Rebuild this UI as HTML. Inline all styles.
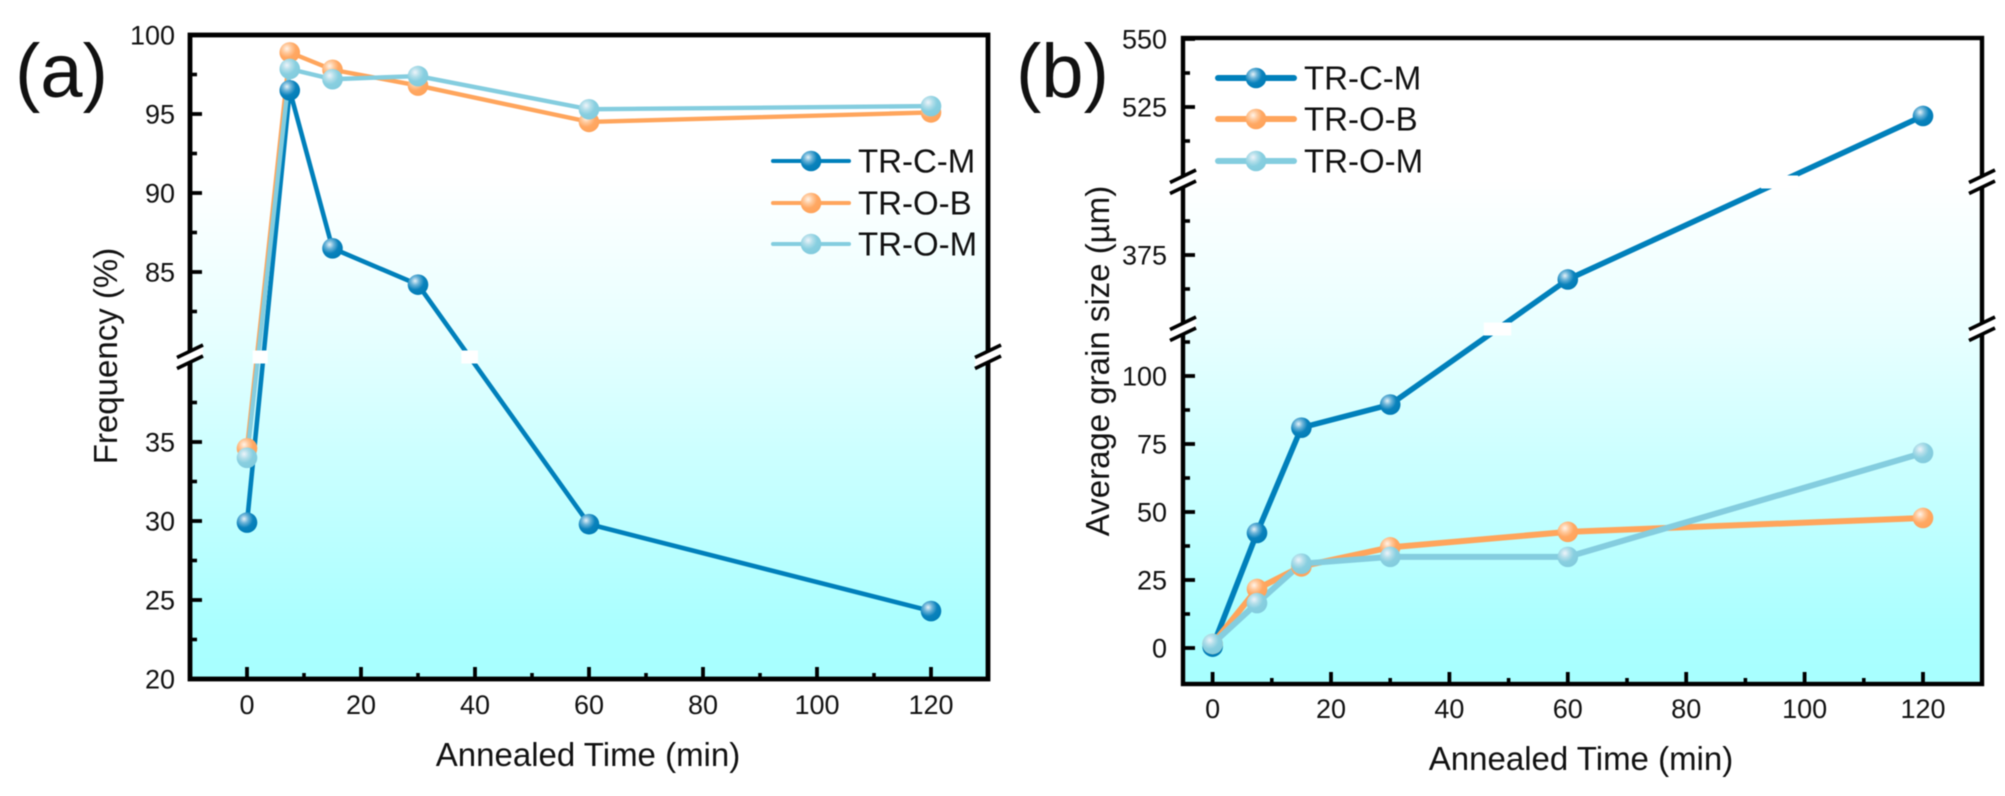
<!DOCTYPE html>
<html lang="en">
<head>
<meta charset="utf-8">
<title>Annealed time charts</title>
<style>
html,body{margin:0;padding:0;background:#fff;width:2005px;height:796px;overflow:hidden}
svg{display:block;font-family:"Liberation Sans",Arial,sans-serif;fill:#111;filter:blur(0.5px)}
</style>
</head>
<body>
<svg id="fig" xmlns="http://www.w3.org/2000/svg" width="2005" height="796" viewBox="0 0 2005 796">
<defs>
<linearGradient id="bgA" gradientUnits="userSpaceOnUse" x1="0" y1="35" x2="0" y2="679">
<stop offset="0.22" stop-color="#ffffff"/><stop offset="0.45" stop-color="#e9ffff"/><stop offset="0.65" stop-color="#ccffff"/><stop offset="0.92" stop-color="#aaffff"/><stop offset="1" stop-color="#a8ffff"/>
</linearGradient>
<linearGradient id="bgB" gradientUnits="userSpaceOnUse" x1="0" y1="38" x2="0" y2="684">
<stop offset="0.22" stop-color="#ffffff"/><stop offset="0.45" stop-color="#e9ffff"/><stop offset="0.65" stop-color="#ccffff"/><stop offset="0.92" stop-color="#aaffff"/><stop offset="1" stop-color="#a8ffff"/>
</linearGradient>
<radialGradient id="ballBlue" cx="0.36" cy="0.32" r="0.72"><stop offset="0" stop-color="#e6f2f8"/><stop offset="0.28" stop-color="#6cb4d8"/><stop offset="0.6" stop-color="#0a82bc"/><stop offset="1" stop-color="#007cb6"/></radialGradient>
<radialGradient id="ballOrange" cx="0.36" cy="0.32" r="0.72"><stop offset="0" stop-color="#fff4ea"/><stop offset="0.3" stop-color="#ffc99c"/><stop offset="0.6" stop-color="#ffa863"/><stop offset="1" stop-color="#ffa35a"/></radialGradient>
<radialGradient id="ballLight" cx="0.36" cy="0.32" r="0.72"><stop offset="0" stop-color="#eef4fa"/><stop offset="0.3" stop-color="#b4dfea"/><stop offset="0.6" stop-color="#88cfe0"/><stop offset="1" stop-color="#82cbdd"/></radialGradient>
</defs>
</svg>
<script>
const times = [0, 7.5, 15, 30, 60, 120];
const seriesLabels = ['TR-C-M', 'TR-O-B', 'TR-O-M'];
const xTickValues = [0, 20, 40, 60, 80, 100, 120];
const xMinorValues = [10, 30, 50, 70, 90, 110];

const freqCM = [29.9, 96.5, 86.5, 84.2, 29.8, 24.3];
const freqOB = [34.6, 98.9, 97.8, 96.8, 94.5, 95.1];
const freqOM = [34.0, 97.85, 97.2, 97.4, 95.3, 95.5];
const freqTicks = [100, 95, 90, 85, 35, 30, 25, 20];
const freqMinor = [97.5, 92.5, 87.5, 82.5, 37.5, 32.5, 27.5, 22.5];

const grainCM = [0.5, 42.3, 81, 89.5, 366, 521.7];
const grainOB = [1.5, 21.7, 30, 37, 42.7, 47.8];
const grainOM = [1.5, 16.5, 31, 33.5, 33.5, 71.7];
const grainTicks = [550, 525, 375, 100, 75, 50, 25, 0];
const grainMinor = [537.5, 512.5, 387.5, 362.5, 112.5, 87.5, 62.5, 37.5, 12.5];

const NS = 'http://www.w3.org/2000/svg';
const fig = document.getElementById('fig');
const BLUE = '#0080bb', ORANGE = '#ffa55c', LIGHT = '#84cddf';
const balls = ['url(#ballBlue)', 'url(#ballOrange)', 'url(#ballLight)'];
const colors = [BLUE, ORANGE, LIGHT];

function add(parent, tag, attrs, name, text) {
  const el = document.createElementNS(NS, tag);
  for (const k in attrs) el.setAttribute(k, attrs[k]);
  
  
  if (text !== undefined) el.textContent = text;
  parent.appendChild(el);
  return el;
}

function xA(v) { return 190 + (v + 10) * 5.7; }
function yA(v) { return v >= 60 ? 114 - (v - 95) * 15.8 : 442 - (v - 35) * 15.8; }
function xB(v) { return 1183 + (v + 5) * 5.92; }
function yB(v) {
  if (v >= 450) return 107 - (v - 525) * 2.72;
  if (v >= 200) return 255 - (v - 375) * 2.72;
  return 648 - v * 2.72;
}

function drawPanel(p) {
  const g = add(fig, 'g', {}, p.id);
  add(g, 'rect', {x: p.l, y: p.t, width: p.r - p.l, height: p.b - p.t, fill: p.bg}, p.id + '-background');

  p.values.forEach((vals, s) => {
    const pts = vals.map((v, i) => [p.x(times[i]), p.y(v)]);
    add(g, 'polyline', {points: pts.map(q => q.join(',')).join(' '), fill: 'none', stroke: colors[s], 'stroke-width': p.lw[s], 'stroke-linejoin': 'round'}, 'line-' + seriesLabels[s].toLowerCase());
    p.breaks.forEach(by => {
      for (let i = 0; i < pts.length - 1; i++) {
        const a = pts[i], c = pts[i + 1];
        if ((a[1] - by) * (c[1] - by) < 0) {
          const f = (by - a[1]) / (c[1] - a[1]);
          const cx = a[0] + f * (c[0] - a[0]);
          const half = Math.abs((c[0] - a[0]) / (c[1] - a[1])) * 6.5 + p.lw[s] * 0.8;
          add(g, 'rect', {x: cx - half, y: by - 6.5, width: half * 2, height: 13, fill: '#ffffff'}, 'line-break-gap');
        }
      }
    });
  });
  p.values.forEach((vals, s) => {
    vals.forEach((v, i) => {
      add(g, 'circle', {cx: p.x(times[i]), cy: p.y(v), r: 10.3, fill: balls[s]}, 'point-' + seriesLabels[s].toLowerCase());
    });
  });

  add(g, 'rect', {x: p.l, y: p.t, width: p.r - p.l, height: p.b - p.t, fill: 'none', stroke: '#000', 'stroke-width': p.frame}, p.id + '-frame');

  p.yTicks.forEach(v => {
    add(g, 'line', {x1: p.l, x2: p.l + 12, y1: p.y(v), y2: p.y(v), stroke: '#000', 'stroke-width': 3.8}, 'y-tick');
    add(g, 'text', {x: p.labelX, y: p.y(v) + 9.5, 'text-anchor': 'end', 'font-size': 27}, 'y-tick-label', String(v));
  });
  p.yMinor.forEach(v => {
    add(g, 'line', {x1: p.l, x2: p.l + 7, y1: p.y(v), y2: p.y(v), stroke: '#000', 'stroke-width': 3.6}, 'y-minor-tick');
  });
  xTickValues.forEach(v => {
    add(g, 'line', {x1: p.x(v), x2: p.x(v), y1: p.b, y2: p.b - 12, stroke: '#000', 'stroke-width': 3.8}, 'x-tick');
    add(g, 'text', {x: p.x(v), y: p.tickBase, 'text-anchor': 'middle', 'font-size': 27}, 'x-tick-label', String(v));
  });
  xMinorValues.forEach(v => {
    add(g, 'line', {x1: p.x(v), x2: p.x(v), y1: p.b, y2: p.b - 6, stroke: '#000', 'stroke-width': 3.6}, 'x-minor-tick');
  });

  p.breaks.forEach(by => {
    [p.l, p.r].forEach(ax => {
      add(g, 'polygon', {points: [[ax - 13, by + 0], [ax + 13, by - 12], [ax + 13, by + 0], [ax - 13, by + 12]].map(q => q.join(',')).join(' '), fill: '#fff'}, 'axis-break-fill');
      add(g, 'line', {x1: ax - 13, y1: by + 0.5, x2: ax + 13, y2: by - 12, stroke: '#000', 'stroke-width': 3.6}, 'axis-break-mark');
      add(g, 'line', {x1: ax - 13, y1: by + 11.5, x2: ax + 13, y2: by - 1, stroke: '#000', 'stroke-width': 3.6}, 'axis-break-mark');
    });
  });

  add(g, 'text', {x: p.xTitle[0], y: p.xTitle[1], 'text-anchor': 'middle', 'font-size': 33}, 'x-axis-title', 'Annealed Time (min)');
  add(g, 'text', {transform: 'translate(' + p.yTitle[0] + ',' + p.yTitle[1] + ') rotate(-90)', 'text-anchor': 'middle', 'font-size': 33}, 'y-axis-title', p.yText);
  add(g, 'text', {x: p.tag[0], y: p.tag[1], 'font-size': 76}, 'panel-label', p.tagText);

  seriesLabels.forEach((lab, s) => {
    const y = p.legend.y[s];
    add(g, 'line', {x1: p.legend.x1, x2: p.legend.x2, y1: y, y2: y, stroke: colors[s], 'stroke-width': p.legend.lw, 'stroke-linecap': 'round'}, 'legend-line');
    add(g, 'circle', {cx: (p.legend.x1 + p.legend.x2) / 2, cy: y, r: 10.3, fill: balls[s]}, 'legend-marker');
    add(g, 'text', {x: p.legend.tx, y: y + 11.5, 'font-size': 33}, 'legend-label', lab);
  });
}

drawPanel({
  id: 'panel-a', l: 190, r: 988, t: 35, b: 679, frame: 4.8, bg: 'url(#bgA)', x: xA, y: yA,
  values: [freqCM, freqOB, freqOM], lw: [4.6, 4.4, 4.4], breaks: [357],
  yTicks: freqTicks, yMinor: freqMinor, labelX: 175, tickBase: 714,
  xTitle: [588, 766], yTitle: [117, 356], yText: 'Frequency (%)',
  tag: [15, 97], tagText: '(a)',
  legend: {x1: 773, x2: 849, lw: 4, tx: 858, y: [161, 203, 244]}
});
drawPanel({
  id: 'panel-b', l: 1183, r: 1982, t: 38, b: 684, frame: 4.4, bg: 'url(#bgB)', x: xB, y: yB,
  values: [grainCM, grainOB, grainOM], lw: [5.6, 6, 6], breaks: [182, 329],
  yTicks: grainTicks, yMinor: grainMinor, labelX: 1167, tickBase: 718,
  xTitle: [1581, 770], yTitle: [1109, 361], yText: 'Average grain size (\u00B5m)',
  tag: [1016, 97], tagText: '(b)',
  legend: {x1: 1218, x2: 1294, lw: 6, tx: 1304, y: [78, 119, 161]}
});
</script>
</body>
</html>
